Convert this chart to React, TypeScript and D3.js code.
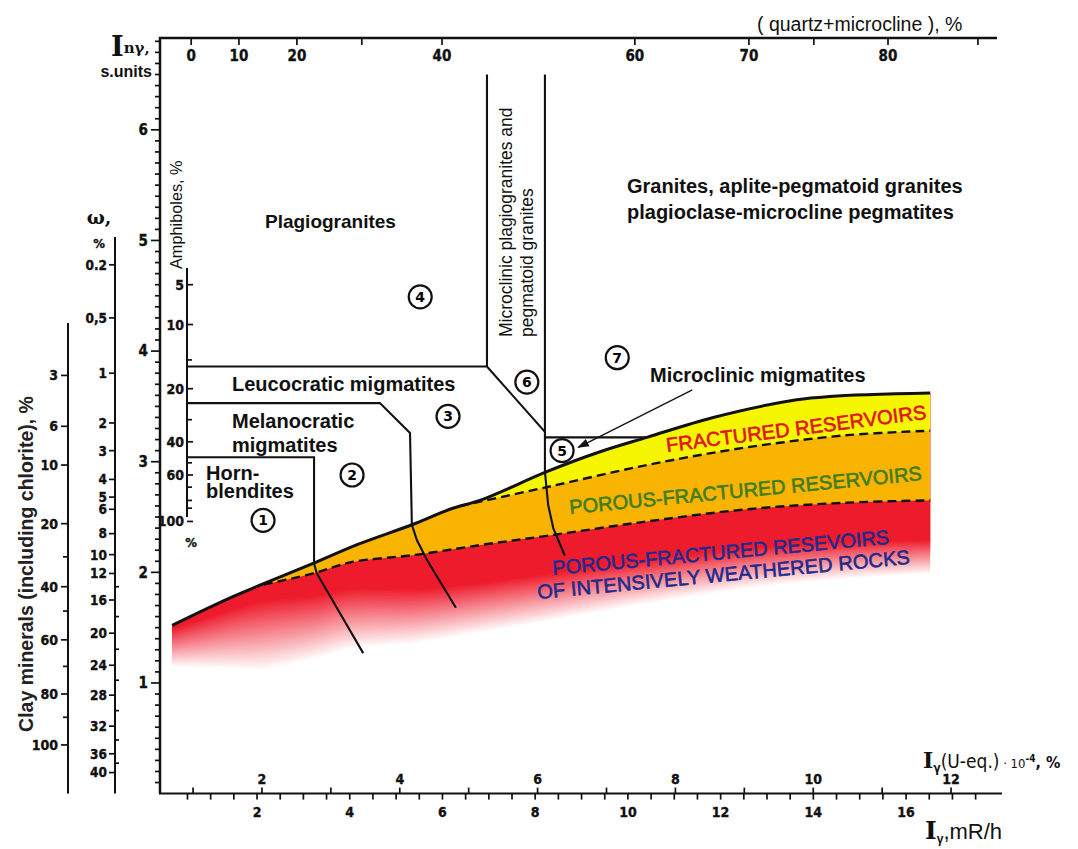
import React from "react";
import * as d3 from "d3";

// ---------------- data ----------------
// bottom axis I_gamma, mR/h
const mRhLabels = [2, 4, 6, 8, 10, 12, 14, 16];
const mRhMinor = d3.range(0.5, 18, 0.5);
// upper-bottom axis I_gamma (U-eq.)·10^-4 %
const uEqLabels = [2, 4, 6, 8, 10, 12];
const uEqTicks = [1, 2, 3, 4, 5, 6, 7, 8, 9, 10, 11, 12];
// main vertical axis I_n_gamma, s.units
const inLabels = [1, 2, 3, 4, 5, 6];
const inMinor = d3.range(0.1, 6.85, 0.1);
// top axis (quartz+microcline), % : non-linear, positions given in mR/h units
const quartzValues = [0, 10, 20, 30, 40, 60, 70, 75, 80, 85];
const quartzAt = [0.58, 1.61, 2.86, 4.26, 5.99, 10.15, 12.61, 14.01, 15.61, 17.55];
const quartzLabels = [0, 10, 20, 40, 60, 70, 80];

// omega, % auxiliary scale (positions in I_n_gamma units)
const omegaLabels = ["0.2", "0,5", "1", "2", "3", "4", "5", "6", "8", "10", "12", "16", "20", "24", "28", "32", "36", "40"];
const omegaAt = [4.78, 4.3, 3.8, 3.35, 3.1, 2.84, 2.68, 2.57, 2.35, 2.16, 1.99, 1.75, 1.45, 1.16, 0.89, 0.61, 0.36, 0.19];
// clay minerals, % auxiliary scale
const clayLabels = ["3", "6", "10", "20", "40", "60", "80", "100"];
const clayAt = [3.78, 3.32, 2.97, 2.44, 1.87, 1.39, 0.9, 0.44];
const clayMinorAt = [2.14, 1.65, 1.15, 0.69];
// amphiboles, % auxiliary scale
const amphLabels = ["5", "10", "20", "40", "60", "100"];
const amphAt = [4.6, 4.24, 3.66, 3.18, 2.88, 2.46];
const amphMinorAt = [3.92, 3.38, 2.99, 2.77, 2.65, 2.58];

// reservoir boundaries [I_gamma mR/h, I_n_gamma]
const upperBoundary: [number, number][] = [
  [0.17, 1.52], [1.48, 1.78], [3.21, 2.08], [4.16, 2.25], [5.34, 2.43], [6.16, 2.57], [6.87, 2.66],
  [8.25, 2.91], [9.4, 3.09], [10.41, 3.22], [11.84, 3.4], [13.64, 3.56], [14.36, 3.59], [16.52, 3.62],
];
const fracturedBottom: [number, number][] = [
  [6.38, 2.6], [8.25, 2.77], [10.41, 2.97], [12.57, 3.13], [14.73, 3.24], [16.52, 3.28],
];
const porousBottom: [number, number][] = [
  [2.15, 1.89], [3.21, 1.99], [4.01, 2.09], [5.45, 2.16], [6.87, 2.25], [8.25, 2.33],
  [10.41, 2.46], [12.57, 2.57], [14.73, 2.63], [16.52, 2.65],
];

// rock-type field borders
const leucoBorder: [number, number][] = [[0.49, 3.86], [6.96, 3.86], [8.21, 3.27]];
const plagioBorder: [number, number][] = [[6.96, 6.5], [6.96, 3.86]];
const microBorder: [number, number][] = [[8.21, 6.5], [8.21, 2.91], [8.28, 2.61], [8.39, 2.4], [8.64, 2.15]];
const box5Border: [number, number][] = [[8.21, 3.22], [10.41, 3.22]];
const melanoBorder: [number, number][] = [[0.49, 3.53], [4.65, 3.53], [5.3, 3.26], [5.34, 2.43], [5.45, 2.29], [5.67, 2.11], [6.29, 1.68]];
const hornBorder: [number, number][] = [[0.49, 3.04], [3.23, 3.04], [3.23, 2.08], [3.29, 1.99], [4.29, 1.27]];
const arrowPts: [number, number][] = [[11.39, 3.65], [8.93, 3.13]];

const fieldNumbers = ["1", "2", "3", "4", "5", "6", "7"];
const fieldNumberAt: [number, number][] = [
  [2.13, 2.47], [4.05, 2.88], [6.12, 3.41], [5.52, 4.49], [8.58, 3.1], [7.82, 3.72], [9.77, 3.94],
];

// ---------------- styles ----------------
const TICKF = "'Liberation Sans Narrow','Arial Narrow','DejaVu Sans Condensed',sans-serif";
const F = "'Liberation Sans', Arial, sans-serif";
const SERIF = "'DejaVu Serif',serif";
const RED = "#ee1b2c";
const ORANGE = "#f8b400";
const YELLOW = "#f6f600";

export default function App() {
  const x = d3.scaleLinear().domain([0, 18]).range([164.3, 998.8]);
  const y = d3.scaleLinear().domain([0, 6.83]).range([793.6, 38]);
  const u = d3.scaleLinear().domain([1, 12]).range([x(0.62), x(16.97)]);
  const q = d3.scaleLinear().domain(quartzValues).range(quartzAt.map((v) => x(v)));

  const curve = d3.curveCatmullRom.alpha(0.5);
  const smooth = d3.line<[number, number]>().x((d) => x(d[0])).y((d) => y(d[1])).curve(curve);
  const poly = d3.line<[number, number]>().x((d) => x(d[0])).y((d) => y(d[1]));

  const x0 = upperBoundary[0][0];
  const x1 = upperBoundary[upperBoundary.length - 1][0];
  const clipPath = smooth(upperBoundary) + `L${x(x1)},${y(0)}L${x(x0)},${y(0)}Z`;

  const redTop: [number, number][] = [...upperBoundary.filter((d) => d[0] < porousBottom[0][0]), ...porousBottom];
  const above = (pts: [number, number][]) =>
    d3.area<[number, number]>().x((d) => x(d[0])).y0(200).y1((d) => y(d[1])).curve(curve)(pts) as string;

  // depth of the solid red and of the fade, varying along the band
  const solidDepth = d3.scaleLinear().domain([0.17, 2, 6, 16.5]).range([4, 16, 38, 40]).clamp(true);
  const fadeDepth = d3.scaleLinear().domain([0.17, 2, 6, 16.5]).range([38, 70, 52, 34]).clamp(true);
  const fadeN = 36;
  const layers = d3.range(fadeN, -1, -1).map((i) => ({
    t: i / fadeN,
    c: d3.interpolateRgb(RED, "#ffffff")(i / fadeN),
  }));
  const layerPath = (t: number) =>
    d3.area<[number, number]>()
      .x((d) => x(d[0]))
      .y0((d) => y(d[1]) - 250)
      .y1((d) => y(d[1]) + solidDepth(d[0]) + t * fadeDepth(d[0]))
      .curve(curve)(redTop) as string;

  const tick = { stroke: "#111", strokeWidth: 1.7 };
  const lbl = {
    fontFamily: TICKF, fontWeight: 700, fontSize: 15, fill: "#111",
    stroke: "#111", strokeWidth: 0.35,
  };
  const boundary = { fill: "none", stroke: "#111", strokeWidth: 2.1 };

  return (
    <svg width={1078} height={849} style={{ position: "absolute", left: 0, top: 0, background: "#fff" }}>
      <defs>
        <clipPath id="belowU">
          <path d={clipPath} />
        </clipPath>
        <marker id="arr" viewBox="0 0 10 10" refX="9" refY="5" markerWidth="9" markerHeight="9" orient="auto">
          <path d="M0,1.5L10,5L0,8.5Z" fill="#111" />
        </marker>
      </defs>

      {/* coloured reservoir zones */}
      <g clipPath="url(#belowU)">
        {layers.map((l, i) => (
          <path key={i} d={layerPath(l.t)} fill={l.c} />
        ))}
        <path d={above(porousBottom)} fill={ORANGE} />
        <path d={above(fracturedBottom)} fill={YELLOW} />
      </g>
      <path d={smooth(upperBoundary) as string} fill="none" stroke="#111" strokeWidth={3} />
      <path d={smooth(fracturedBottom) as string} fill="none" stroke="#111" strokeWidth={2.4} strokeDasharray="9 5" />
      <path d={smooth(porousBottom) as string} fill="none" stroke="#111" strokeWidth={2.4} strokeDasharray="9 5" />

      {/* field borders */}
      {[leucoBorder, plagioBorder, microBorder, box5Border, melanoBorder, hornBorder].map((b, i) => (
        <path key={i} d={poly(b) as string} {...boundary} />
      ))}
      <path d={poly(arrowPts) as string} stroke="#111" strokeWidth={1.3} fill="none" markerEnd="url(#arr)" />

      {/* field numbers */}
      {fieldNumbers.map((n, i) => (
        <g key={n} transform={`translate(${x(fieldNumberAt[i][0])},${y(fieldNumberAt[i][1])})`}>
          <circle r={11.5} fill="#fff" stroke="#111" strokeWidth={2.2} />
          <text textAnchor="middle" dy="0.36em" style={{ fontFamily: "'DejaVu Sans',sans-serif", fontWeight: 700, fontSize: 14 }}>{n}</text>
        </g>
      ))}

      {/* main frame axes */}
      <line x1={160} x2={160} y1={37} y2={y(0)} stroke="#111" strokeWidth={2.5} />
      <line x1={159} x2={997} y1={38} y2={38} stroke="#111" strokeWidth={2.5} />
      <line x1={159} x2={1002} y1={y(0)} y2={y(0)} stroke="#111" strokeWidth={2} />

      {/* left main axis */}
      {inMinor.map((v, i) => {
        const major = Math.abs(v - Math.round(v)) < 0.01;
        return <line key={i} x1={160} x2={major ? 151 : 155} y1={y(v)} y2={y(v)} {...tick} />;
      })}
      {inLabels.map((v) => (
        <text key={v} x={148} y={y(v)} dy="0.36em" textAnchor="end" style={lbl}>{v}</text>
      ))}

      {/* bottom axis mR/h */}
      {mRhMinor.map((v, i) => (
        <line key={i} x1={x(v)} x2={x(v)} y1={y(0)} y2={y(0) + 6} {...tick} />
      ))}
      {mRhLabels.map((v) => (
        <text key={v} x={x(v)} y={817} textAnchor="middle" style={{ ...lbl, fontSize: 14 }}>{v}</text>
      ))}
      {/* U-eq ticks */}
      {uEqTicks.map((v) => (
        <line key={v} x1={u(v)} x2={u(v)} y1={y(0)} y2={y(0) - 6} {...tick} />
      ))}
      {uEqLabels.map((v) => (
        <text key={v} x={u(v)} y={784} textAnchor="middle" style={{ ...lbl, fontSize: 14 }}>{v}</text>
      ))}

      {/* top axis quartz+microcline */}
      {quartzValues.map((v) => (
        <line key={v} x1={q(v)} x2={q(v)} y1={38} y2={45} {...tick} />
      ))}
      {quartzLabels.map((v) => (
        <text key={v} x={q(v)} y={61} textAnchor="middle" style={lbl}>{v}</text>
      ))}
      <text x={757} y={31} style={{ fontFamily: F, fontSize: 19.5, fill: "#111" }}>( quartz+microcline ), %</text>

      {/* omega axis */}
      <line x1={115} x2={115} y1={237} y2={y(0)} stroke="#111" strokeWidth={2} />
      {omegaAt.map((v, i) => (
        <g key={i}>
          <line x1={115} x2={109} y1={y(v)} y2={y(v)} {...tick} />
          <text x={107} y={y(v)} dy="0.36em" textAnchor="end" style={{ ...lbl, fontSize: 13.5 }}>{omegaLabels[i]}</text>
        </g>
      ))}
      {omegaAt.slice(10).map((v, i, arr) =>
        i < arr.length - 1 ? (
          <line key={i} x1={115} x2={119} y1={y((v + arr[i + 1]) / 2)} y2={y((v + arr[i + 1]) / 2)} {...tick} />
        ) : null
      )}
      <text x={99} y={224} textAnchor="middle" style={{ fontFamily: SERIF, fontWeight: 700, fontSize: 19, fill: "#111" }}>ω,</text>
      <text x={99} y={248} textAnchor="middle" style={{ ...lbl, fontSize: 13 }}>%</text>

      {/* clay axis */}
      <line x1={68} x2={68} y1={323} y2={y(0)} stroke="#111" strokeWidth={2} />
      {clayAt.map((v, i) => (
        <g key={i}>
          <line x1={68} x2={61} y1={y(v)} y2={y(v)} {...tick} />
          <text x={58} y={y(v)} dy="0.36em" textAnchor="end" style={{ ...lbl, fontSize: 14 }}>{clayLabels[i]}</text>
        </g>
      ))}
      {clayMinorAt.map((v, i) => (
        <line key={i} x1={68} x2={63} y1={y(v)} y2={y(v)} {...tick} />
      ))}
      <text transform="translate(33,564) rotate(-90)" textAnchor="middle"
        style={{ fontFamily: F, fontSize: 19.5, fontWeight: 700, fill: "#222" }}>
        Clay minerals (including chlorite), %
      </text>

      {/* amphiboles axis */}
      <line x1={187} x2={187} y1={268} y2={517} stroke="#111" strokeWidth={2} />
      {amphAt.map((v, i) => (
        <g key={i}>
          <line x1={187} x2={193} y1={y(v)} y2={y(v)} {...tick} />
          <text x={184} y={y(v)} dy="0.36em" textAnchor="end" style={{ ...lbl, fontSize: 14 }}>{amphLabels[i]}</text>
        </g>
      ))}
      {amphMinorAt.map((v, i) => (
        <line key={i} x1={187} x2={192} y1={y(v)} y2={y(v)} {...tick} />
      ))}
      <text x={191} y={547} textAnchor="middle" style={{ ...lbl, fontSize: 13 }}>%</text>
      <text transform="translate(182,269) rotate(-90)" style={{ fontFamily: F, fontSize: 16.3, fill: "#111" }}>Amphiboles, %</text>

      {/* axis titles */}
      <text x={111} y={56} style={{ fontFamily: SERIF, fontWeight: 700, fontSize: 27, fill: "#111" }}>
        I<tspan style={{ fontSize: 15 }} dy={-3}>nγ,</tspan>
      </text>
      <text x={152} y={77} textAnchor="end" style={{ fontFamily: F, fontSize: 16, fontWeight: 700, fill: "#111" }}>s.units</text>
      <text x={923} y={768} style={{ fontFamily: TICKF, fontSize: 19, fill: "#111" }}>
        <tspan style={{ fontFamily: SERIF, fontWeight: 700, fontSize: 22 }}>I</tspan>
        <tspan dy={4} style={{ fontSize: 12, fontWeight: 700 }}>γ</tspan>
        <tspan dy={-4}>(U-eq.)</tspan>
        <tspan style={{ fontSize: 13 }}> · 10</tspan>
        <tspan dy={-6} style={{ fontSize: 10, fontWeight: 700 }}>-4</tspan>
        <tspan dy={6} style={{ fontSize: 16, fontWeight: 700 }}>, %</tspan>
      </text>
      <text x={925} y={839} style={{ fontFamily: F, fontSize: 22, fill: "#111" }}>
        <tspan style={{ fontFamily: SERIF, fontWeight: 700, fontSize: 25 }}>I</tspan>
        <tspan dy={4} style={{ fontSize: 12, fontWeight: 700 }}>γ</tspan>
        <tspan dy={-4}>,mR/h</tspan>
      </text>

      {/* field names */}
      <g style={{ fontFamily: F, fontWeight: 700, fontSize: 20, fill: "#111" }}>
        <text x={265} y={228} style={{ fontSize: 19 }}>Plagiogranites</text>
        <text x={627} y={193}>Granites, aplite-pegmatoid granites</text>
        <text x={627} y={219}>plagioclase-microcline pegmatites</text>
        <text x={232} y={391}>Leucocratic migmatites</text>
        <text x={232} y={428}>Melanocratic</text>
        <text x={232} y={452}>migmatites</text>
        <text x={206} y={480}>Horn-</text>
        <text x={206} y={498}>blendites</text>
        <text x={650} y={382}>Microclinic migmatites</text>
      </g>
      <g style={{ fontFamily: F, fontSize: 17.5, fill: "#111" }}>
        <text transform="translate(512,337) rotate(-90)">Microclinic plagiogranites and</text>
        <text transform="translate(533,337) rotate(-90)">pegmatoid granites</text>
      </g>

      {/* reservoir names */}
      <g style={{ fontFamily: F, fontSize: 20 }} strokeWidth={0.6}>
        <text transform="translate(667,452) rotate(-7.3)" fill="#e0141c" stroke="#e0141c" textLength={262} lengthAdjust="spacing">FRACTURED RESERVOIRS</text>
        <text transform="translate(570,514) rotate(-5.5)" fill="#3f7d1f" stroke="#3f7d1f" textLength={354} lengthAdjust="spacing">POROUS-FRACTURED RESERVOIRS</text>
        <text transform="translate(553,575) rotate(-5.3)" fill="#1e2a8e" stroke="#1e2a8e" textLength={338} lengthAdjust="spacing">POROUS-FRACTURED RESEVOIRS</text>
        <text transform="translate(538,599) rotate(-5.4)" fill="#1e2a8e" stroke="#1e2a8e" textLength={374} lengthAdjust="spacing">OF INTENSIVELY WEATHERED ROCKS</text>
      </g>
    </svg>
  );
}
